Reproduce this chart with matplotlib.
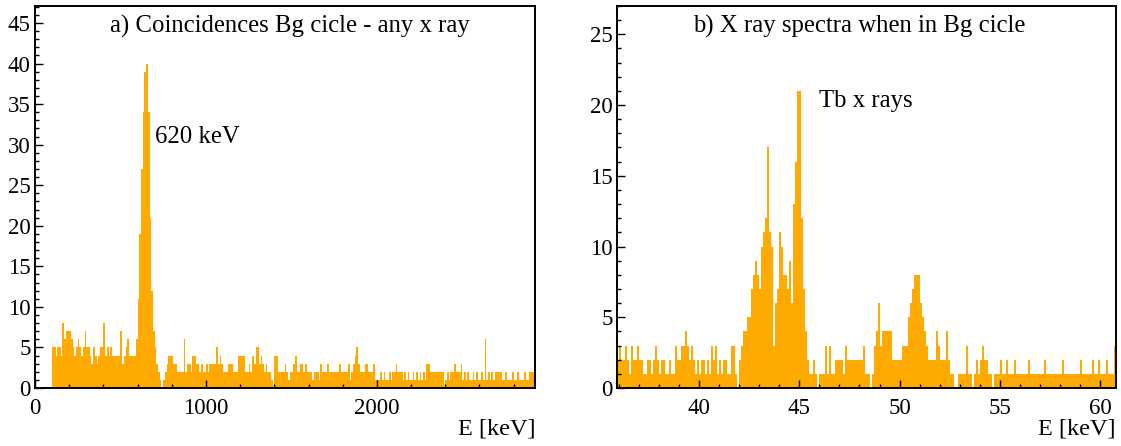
#!/usr/bin/env python3
"""Two ROOT-style spectra: coincidences in the Bg cycle and the X-ray spectrum."""

import matplotlib

matplotlib.use("Agg")
import matplotlib.pyplot as plt
import numpy as np
from matplotlib.ticker import MultipleLocator

# ---- panel a: coincidence spectrum, 10 keV bins starting at 100 keV ----
A_LOW = 100.0
A_BIN = 10.0
A_COUNTS = [
    5, 5, 4, 5, 5, 4, 8, 6, 7, 7,      # 100
    7, 6, 5, 4, 5, 6, 5, 4, 5, 7,      # 200
    5, 5, 4, 3, 5, 4, 3, 4, 5, 5,      # 300
    8, 4, 5, 4, 5, 4, 4, 4, 4, 4,      # 400
    7, 3, 4, 5, 6, 4, 4, 4, 4, 6,      # 500
    11, 19, 27, 34, 39, 40, 34, 21, 12, 7,  # 600
    5, 3, 2, 1, 0, 1, 2, 3, 4, 4,      # 700
    4, 3, 3, 2, 2, 2, 2, 6, 2, 3,      # 800
    3, 2, 4, 4, 3, 3, 2, 3, 2, 2,      # 900
    3, 2, 3, 3, 3, 3, 5, 3, 4, 3,      # 1000
    2, 2, 2, 3, 3, 3, 2, 2, 2, 4,      # 1100
    4, 4, 4, 2, 2, 3, 2, 4, 3, 5,      # 1200
    5, 3, 4, 3, 2, 3, 2, 2, 1, 0,      # 1300
    4, 4, 2, 2, 2, 2, 3, 2, 1, 2,      # 1400
    2, 3, 4, 2, 2, 3, 3, 2, 3, 2,      # 1500
    2, 2, 1, 2, 2, 2, 1, 3, 2, 2,      # 1600
    2, 3, 2, 2, 2, 2, 2, 2, 3, 2,      # 1700
    2, 2, 2, 3, 1, 2, 3, 4, 5, 3,      # 1800
    2, 2, 2, 3, 3, 2, 2, 2, 3, 1,      # 1900
    1, 1, 2, 1, 2, 1, 1, 2, 1, 2,      # 2000
    2, 3, 2, 2, 2, 1, 2, 1, 2, 1,      # 2100
    1, 2, 1, 2, 1, 2, 1, 2, 1, 3,      # 2200
    3, 2, 2, 2, 2, 2, 2, 2, 2, 0,      # 2300
    1, 2, 1, 2, 2, 3, 2, 2, 2, 3,      # 2400
    1, 2, 1, 2, 1, 1, 2, 1, 2, 1,      # 2500
    1, 2, 1, 6, 1, 2, 1, 2, 1, 2,      # 2600
    2, 2, 2, 1, 1, 2, 1, 1, 1, 2,      # 2700
    1, 1, 2, 1, 1, 1, 2, 1, 1, 2,      # 2800
    2, 2,                              # 2900
]

# ---- panel b: X-ray spectrum, 0.1 keV bins starting at 35.9 keV ----
B_LOW = 35.9
B_BIN = 0.1
B_COUNTS = [
    2,                                 # 35.9
    3, 2, 2, 3, 2, 1, 3, 2, 2, 3,      # 36
    2, 2, 1, 1, 2, 2, 1, 2, 3, 2,      # 37
    1, 2, 2, 1, 1, 2, 1, 1, 3, 2,      # 38
    2, 3, 3, 4, 3, 2, 3, 2, 1, 2,      # 39
    1, 2, 2, 1, 2, 1, 3, 2, 3, 1,      # 40
    2, 1, 2, 2, 1, 1, 3, 3, 1, 0,      # 41
    2, 3, 4, 4, 5, 5, 7, 8, 9, 8,      # 42
    7, 10, 11, 12, 17, 11, 10, 3, 6, 7,  # 43
    11, 10, 8, 8, 7, 9, 6, 13, 16, 21,  # 44
    21, 12, 7, 4, 2, 1, 1, 2, 1, 0,    # 45
    1, 1, 1, 3, 1, 3, 1, 1, 2, 2,      # 46
    2, 2, 1, 3, 2, 2, 2, 2, 2, 2,      # 47
    2, 2, 3, 1, 1, 0, 1, 3, 4, 6,      # 48
    3, 4, 4, 4, 4, 4, 2, 2, 2, 2,      # 49
    2, 3, 3, 3, 5, 6, 7, 8, 8, 8,      # 50
    6, 5, 4, 3, 2, 2, 2, 2, 4, 3,      # 51
    2, 2, 2, 4, 2, 1, 1, 0, 0, 1,      # 52
    1, 1, 1, 3, 1, 1, 0, 1, 2, 1,      # 53
    2, 3, 2, 2, 1, 1, 0, 1, 1, 1,      # 54
    2, 1, 1, 2, 1, 1, 1, 2, 1, 1,      # 55
    1, 1, 1, 1, 2, 1, 1, 1, 1, 1,      # 56
    1, 1, 2, 1, 1, 1, 1, 1, 1, 1,      # 57
    1, 2, 1, 1, 1, 1, 1, 1, 1, 1,      # 58
    2, 1, 1, 1, 1, 1, 2, 1, 1, 2,      # 59
    1, 1, 1, 2, 1, 1, 1, 3,            # 60
]

A_TITLE = "a) Coincidences Bg cicle - any x ray"
B_TITLE = "b) X ray spectra when in Bg cicle"
A_NOTE = "620 keV"
B_NOTE = "Tb x rays"
XLABEL = "E [keV]"

A_XLIM = (0, 2925)
A_YLIM = (0, 47.1)
B_XLIM = (35.9, 60.8)
B_YLIM = (0, 27.0)

FILL = "#FFAA00"

plt.rcParams["font.family"] = ["Liberation Serif", "DejaVu Serif"]
plt.rcParams["font.size"] = 14


def edges_for(low, width, n):
    return low + width * np.arange(n + 1)


def style_axis(ax, xmajor, xminor, ymajor, yminor):
    ax.xaxis.set_major_locator(MultipleLocator(xmajor))
    ax.xaxis.set_minor_locator(MultipleLocator(xminor))
    ax.yaxis.set_major_locator(MultipleLocator(ymajor))
    ax.yaxis.set_minor_locator(MultipleLocator(yminor))
    ax.tick_params(which="both", direction="in", top=False, right=False,
                   labelsize=16.5, width=1.0)
    ax.tick_params(axis="x", which="major", pad=7)
    ax.tick_params(axis="y", which="major", pad=3)
    ax.tick_params(which="major", length=6)
    ax.tick_params(which="minor", length=3)
    for sp in ax.spines.values():
        sp.set_linewidth(1.4)
    ax.set_xlabel(XLABEL, fontsize=17.5, loc="right", labelpad=0)


fig = plt.figure(figsize=(11.21, 4.46), dpi=100)
ax_a = fig.add_axes([35 / 1121, 58 / 446, 500 / 1121, 382 / 446])
ax_b = fig.add_axes([617 / 1121, 58 / 446, 499 / 1121, 382 / 446])

a_counts = np.array(A_COUNTS, dtype=float)
ax_a.stairs(a_counts, edges_for(A_LOW, A_BIN, len(a_counts)),
            fill=True, color=FILL, linewidth=0)
ax_a.set_xlim(*A_XLIM)
ax_a.set_ylim(*A_YLIM)
style_axis(ax_a, 1000, 200, 5, 1)
ax_a.text(0.51, 0.947, A_TITLE, transform=ax_a.transAxes,
          ha="center", va="center", fontsize=17.8)
ax_a.text(700, 31.0, A_NOTE, ha="left", va="center", fontsize=17.8)

b_counts = np.array(B_COUNTS, dtype=float)
ax_b.stairs(b_counts, edges_for(B_LOW, B_BIN, len(b_counts)),
            fill=True, color=FILL, linewidth=0)
ax_b.set_xlim(*B_XLIM)
ax_b.set_ylim(*B_YLIM)
style_axis(ax_b, 5, 1, 5, 1)
ax_b.text(0.486, 0.947, B_TITLE, transform=ax_b.transAxes,
          ha="center", va="center", fontsize=17.8)
ax_b.text(46.0, 20.3, B_NOTE, ha="left", va="center", fontsize=17.8)

fig.savefig("out.png", dpi=100, facecolor="white")
